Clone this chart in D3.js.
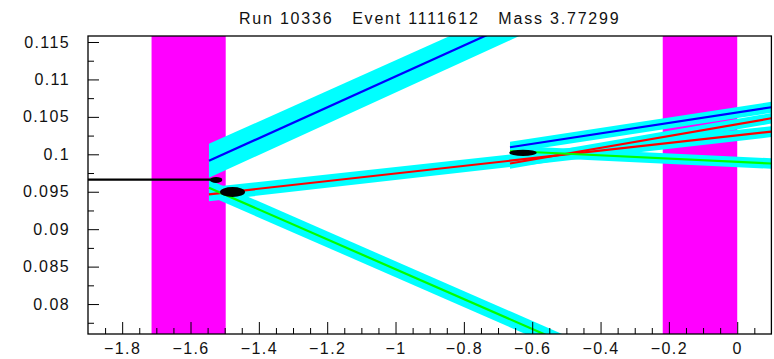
<html lang="en"><head>
<meta http-equiv="Content-Type" content="text/html; charset=UTF-8">
<title>Run 10336 Event 1111612</title>
<script type="text/javascript" src="https://cdn.jsdelivr.net/npm/d3@7"></script>
<style type="text/css">
body { margin: 0; background: #fff; }
text { font-family: "Liberation Sans", Arial, sans-serif; fill: #111; }
</style>
</head>
<body>
<div id="chart"></div>
<script type="text/javascript">

// event display: tracks with error bands around two vertices

var title = "Run 10336   Event 1111612   Mass 3.77299";

var xTicks = [-1.8, -1.6, -1.4, -1.2, -1, -0.8, -0.6, -0.4, -0.2, 0];
var yTicks = [0.08, 0.085, 0.09, 0.095, 0.1, 0.105, 0.11, 0.115];

// magenta regions [x start, x end]
var regionStart = [-1.714, -0.218];
var regionEnd = [-1.497, 0.0];

// incoming black track
var beamX = [-1.95, -1.508];
var beamY = [0.09663, 0.09663];

// tracks: start point, end point, half width of the error band at both ends
var trackX0 = [-1.546, -1.546, -1.546, -0.665, -0.665, -0.665];
var trackY0 = [0.09913, 0.09466, 0.09554, 0.10094, 0.09877, 0.10044];
var trackX1 = [-0.6, 0.1, -0.5, 0.1, 0.1, 0.1];
var trackY1 = [0.11866, 0.10303, 0.07468, 0.10628, 0.10481, 0.09877];
var trackErr0 = [0.00227, 0.00093, 0.00107, 0.00073, 0.0007, 0.0007];
var trackErr1 = [0.00207, 0.00073, 0.00107, 0.00073, 0.0007, 0.0007];
var trackColor = ["#0000ff", "#ff0000", "#00ff00", "#0000ff", "#ff0000", "#00ff00"];

// vertex markers: centre and half sizes
var vtxX = [-1.525, -1.477, -0.627];
var vtxY = [0.09657, 0.09497, 0.10020];
var vtxRx = [0.018, 0.0366, 0.040];
var vtxRy = [0.0004, 0.00067, 0.00042];

var width = 774;
var height = 359;
var plotLeft = 88, plotRight = 771.4, plotTop = 36, plotBottom = 334;

var svg = d3.select("#chart").append("svg")
        .attr("width", width)
        .attr("height", height);

var x = d3.scaleLinear().domain([-1.9, 0.1]).range([plotLeft, plotRight]);
var y = d3.scaleLinear().domain([0.076, 0.1158]).range([plotBottom, plotTop]);

svg.append("defs").append("clipPath").attr("id", "frame")
  .append("rect")
    .attr("x", plotLeft).attr("y", plotTop)
    .attr("width", plotRight - plotLeft).attr("height", plotBottom - plotTop);

var plot = svg.append("g").attr("clip-path", "url(#frame)");

plot.selectAll("rect.region").data(regionStart).enter().append("rect")
    .attr("class", "region")
    .attr("x", function (d) { return x(d); })
    .attr("y", plotTop)
    .attr("width", function (d, i) { return x(regionEnd[i]) - x(d); })
    .attr("height", plotBottom - plotTop)
    .attr("fill", "#ff00ff");

plot.selectAll("path.band").data(trackX0).enter().append("path")
    .attr("class", "band")
    .attr("fill", "#00ffff")
    .attr("d", function (d, i) {
      return "M" + x(d) + "," + y(trackY0[i] + trackErr0[i]) +
        "L" + x(trackX1[i]) + "," + y(trackY1[i] + trackErr1[i]) +
        "L" + x(trackX1[i]) + "," + y(trackY1[i] - trackErr1[i]) +
        "L" + x(d) + "," + y(trackY0[i] - trackErr0[i]) + "Z";
    });

plot.selectAll("line.track").data(trackX0).enter().append("line")
    .attr("class", "track")
    .attr("x1", function (d) { return x(d); })
    .attr("y1", function (d, i) { return y(trackY0[i]); })
    .attr("x2", function (d, i) { return x(trackX1[i]); })
    .attr("y2", function (d, i) { return y(trackY1[i]); })
    .attr("stroke", function (d, i) { return trackColor[i]; })
    .attr("stroke-width", 2.2);

plot.append("line")
    .attr("x1", x(beamX[0])).attr("y1", y(beamY[0]))
    .attr("x2", x(beamX[1])).attr("y2", y(beamY[1]))
    .attr("stroke", "#000")
    .attr("stroke-width", 2.2);

plot.selectAll("ellipse").data(vtxX).enter().append("ellipse")
    .attr("cx", function (d) { return x(d); })
    .attr("cy", function (d, i) { return y(vtxY[i]); })
    .attr("rx", function (d, i) { return x(d + vtxRx[i]) - x(d); })
    .attr("ry", function (d, i) { return y(vtxY[i] - vtxRy[i]) - y(vtxY[i]); })
    .attr("fill", "#000");

// axes, ticks point into the frame
var fmt = function (d) { return String(+d.toFixed(3)).replace("-", "\u2212"); };

var xMinor = d3.range(-1.85, 0.1, 0.05).filter(function (d) {
  return Math.abs(Math.round(d * 5) - d * 5) > 0.01;
});
var yMinor = d3.range(0.0775, 0.1158, 0.005);

svg.append("g")
    .attr("transform", "translate(0," + plotBottom + ")")
    .call(d3.axisBottom(x).tickValues(xMinor).tickSize(-6).tickFormat(""))
    .call(function (g) { g.select(".domain").remove(); });

svg.append("g")
    .attr("transform", "translate(" + plotLeft + ",0)")
    .call(d3.axisLeft(y).tickValues(yMinor).tickSize(-6).tickFormat(""))
    .call(function (g) { g.select(".domain").remove(); });

var xAxis = svg.append("g")
    .attr("transform", "translate(0," + plotBottom + ")")
    .call(d3.axisBottom(x).tickValues(xTicks).tickSize(-12).tickPadding(9).tickFormat(fmt));
xAxis.select(".domain").remove();

var yAxis = svg.append("g")
    .attr("transform", "translate(" + plotLeft + ",0)")
    .call(d3.axisLeft(y).tickValues(yTicks).tickSize(-11).tickPadding(18).tickFormat(fmt));
yAxis.select(".domain").remove();

svg.selectAll(".tick text")
    .attr("font-family", "'Liberation Sans', Arial, sans-serif")
    .attr("font-size", 16)
    .attr("letter-spacing", 1.4)
    .attr("fill", "#111");

svg.append("rect")
    .attr("x", plotLeft).attr("y", plotTop)
    .attr("width", plotRight - plotLeft).attr("height", plotBottom - plotTop)
    .attr("fill", "none")
    .attr("stroke", "#000")
    .attr("stroke-width", 1.3);

svg.append("text")
    .attr("x", (plotLeft + plotRight) / 2)
    .attr("y", 24)
    .attr("text-anchor", "middle")
    .attr("font-size", 16)
    .attr("letter-spacing", 1.8)
    .style("white-space", "pre")
    .text(title);

</script>
</body></html>
